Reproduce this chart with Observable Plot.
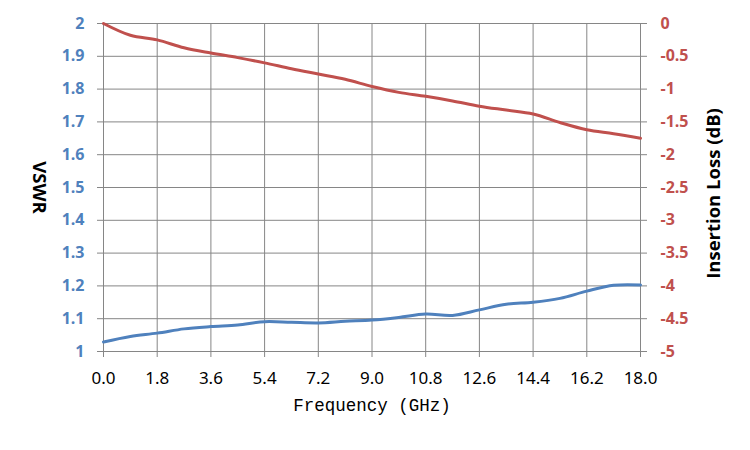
<!DOCTYPE html>
<html>
<head>
<meta charset="utf-8">
<script src="https://cdn.jsdelivr.net/npm/d3@7"></script>
<script src="https://cdn.jsdelivr.net/npm/@observablehq/plot@0.6"></script>
<style>
  html, body { margin: 0; padding: 0; background: #fff; }
  #chart svg { display: block; }
</style>
</head>
<body>
<div id="chart"></div>
<script>
// Frequency points (GHz)
const freq = [0, 0.9, 1.8, 2.7, 3.6, 4.5, 5.4, 6.3, 7.2, 8.1, 9.0, 9.9, 10.8, 11.7, 12.6, 13.5, 14.4, 15.3, 16.2, 17.1, 18.0];
// VSWR (left axis)
const vswr = [1.029, 1.046, 1.056, 1.069, 1.076, 1.081, 1.091, 1.089, 1.087, 1.092, 1.096, 1.104, 1.114, 1.110, 1.127, 1.144, 1.150, 1.162, 1.184, 1.202, 1.203];
// Insertion loss dB (right axis)
const loss = [0, -0.18, -0.25, -0.37, -0.45, -0.52, -0.60, -0.69, -0.77, -0.85, -0.96, -1.05, -1.11, -1.18, -1.26, -1.32, -1.38, -1.51, -1.62, -1.68, -1.75];

// Tick values
const freqTicks = [0, 1.8, 3.6, 5.4, 7.2, 9.0, 10.8, 12.6, 14.4, 16.2, 18.0];
const vswrTicks = [1, 1.1, 1.2, 1.3, 1.4, 1.5, 1.6, 1.7, 1.8, 1.9, 2];
const lossTicks = [0, -0.5, -1, -1.5, -2, -2.5, -3, -3.5, -4, -4.5, -5];

// Map right-axis (dB, domain [-5,0]) onto left-axis scale (domain [1,2])
const lossToY = d => 2 + d / 5;
const yToLoss = v => Math.round((v - 2) * 5 * 10) / 10;

const blue = "#4F81BD";
const red = "#C0504D";
const gridColor = "#868686";

const vswrData = freq.map((f, i) => ({f, v: vswr[i]}));
const lossData = freq.map((f, i) => ({f, v: loss[i]}));

const chart = Plot.plot({
  width: 750,
  height: 450,
  marginLeft: 103,
  marginRight: 110,
  marginTop: 23,
  marginBottom: 99,
  x: {domain: [0, 18]},
  y: {domain: [1, 2]},
  marks: [
    Plot.gridX(freqTicks, {stroke: gridColor, strokeOpacity: 1, strokeWidth: 1}),
    Plot.gridY(vswrTicks, {stroke: gridColor, strokeOpacity: 1, strokeWidth: 1}),
    Plot.axisX(freqTicks, {
      label: null, tickSize: 6, tickPadding: 14, stroke: gridColor,
      fill: "#000", fontSize: 17, fontFamily: "Noto Sans, sans-serif",
      tickFormat: d => d.toFixed(1)
    }),
    Plot.axisY(vswrTicks, {
      anchor: "left", label: null, tickSize: 6, tickPadding: 13, stroke: gridColor,
      fill: blue, fontSize: 16, fontWeight: "bold", fontFamily: "Open Sans, sans-serif",
      tickFormat: d => String(d)
    }),
    Plot.axisY(lossTicks.map(lossToY), {
      anchor: "right", label: null, tickSize: 6, tickPadding: 14, stroke: gridColor,
      fill: red, fontSize: 16, fontWeight: "bold", fontFamily: "Open Sans, sans-serif",
      tickFormat: v => String(yToLoss(v)).replace("\u2212", "-")
    }),
    Plot.line(lossData, {x: "f", y: d => lossToY(d.v), stroke: red, strokeWidth: 3, curve: "catmull-rom"}),
    Plot.line(vswrData, {x: "f", y: "v", stroke: blue, strokeWidth: 3, curve: "catmull-rom"}),
    Plot.text(["VSWR"], {
      frameAnchor: "left", textAnchor: "middle", text: d => d, dx: -65, rotate: 90,
      fontSize: 18.5, fontWeight: "bold", fontFamily: "Open Sans, sans-serif", fill: "#000"
    }),
    Plot.text(["Insertion Loss (dB)"], {
      frameAnchor: "right", textAnchor: "middle", text: d => d, dx: 74, dy: 6, rotate: -90,
      fontSize: 18.5, fontWeight: "bold", fontFamily: "Open Sans, sans-serif", fill: "#000"
    }),
    Plot.text(["Frequency (GHz)"], {
      frameAnchor: "bottom", text: d => d, dy: 59,
      fontSize: 17.5, fontFamily: "Liberation Mono, monospace", fill: "#000"
    })
  ]
});
document.getElementById("chart").appendChild(chart);
</script>
</body>
</html>
